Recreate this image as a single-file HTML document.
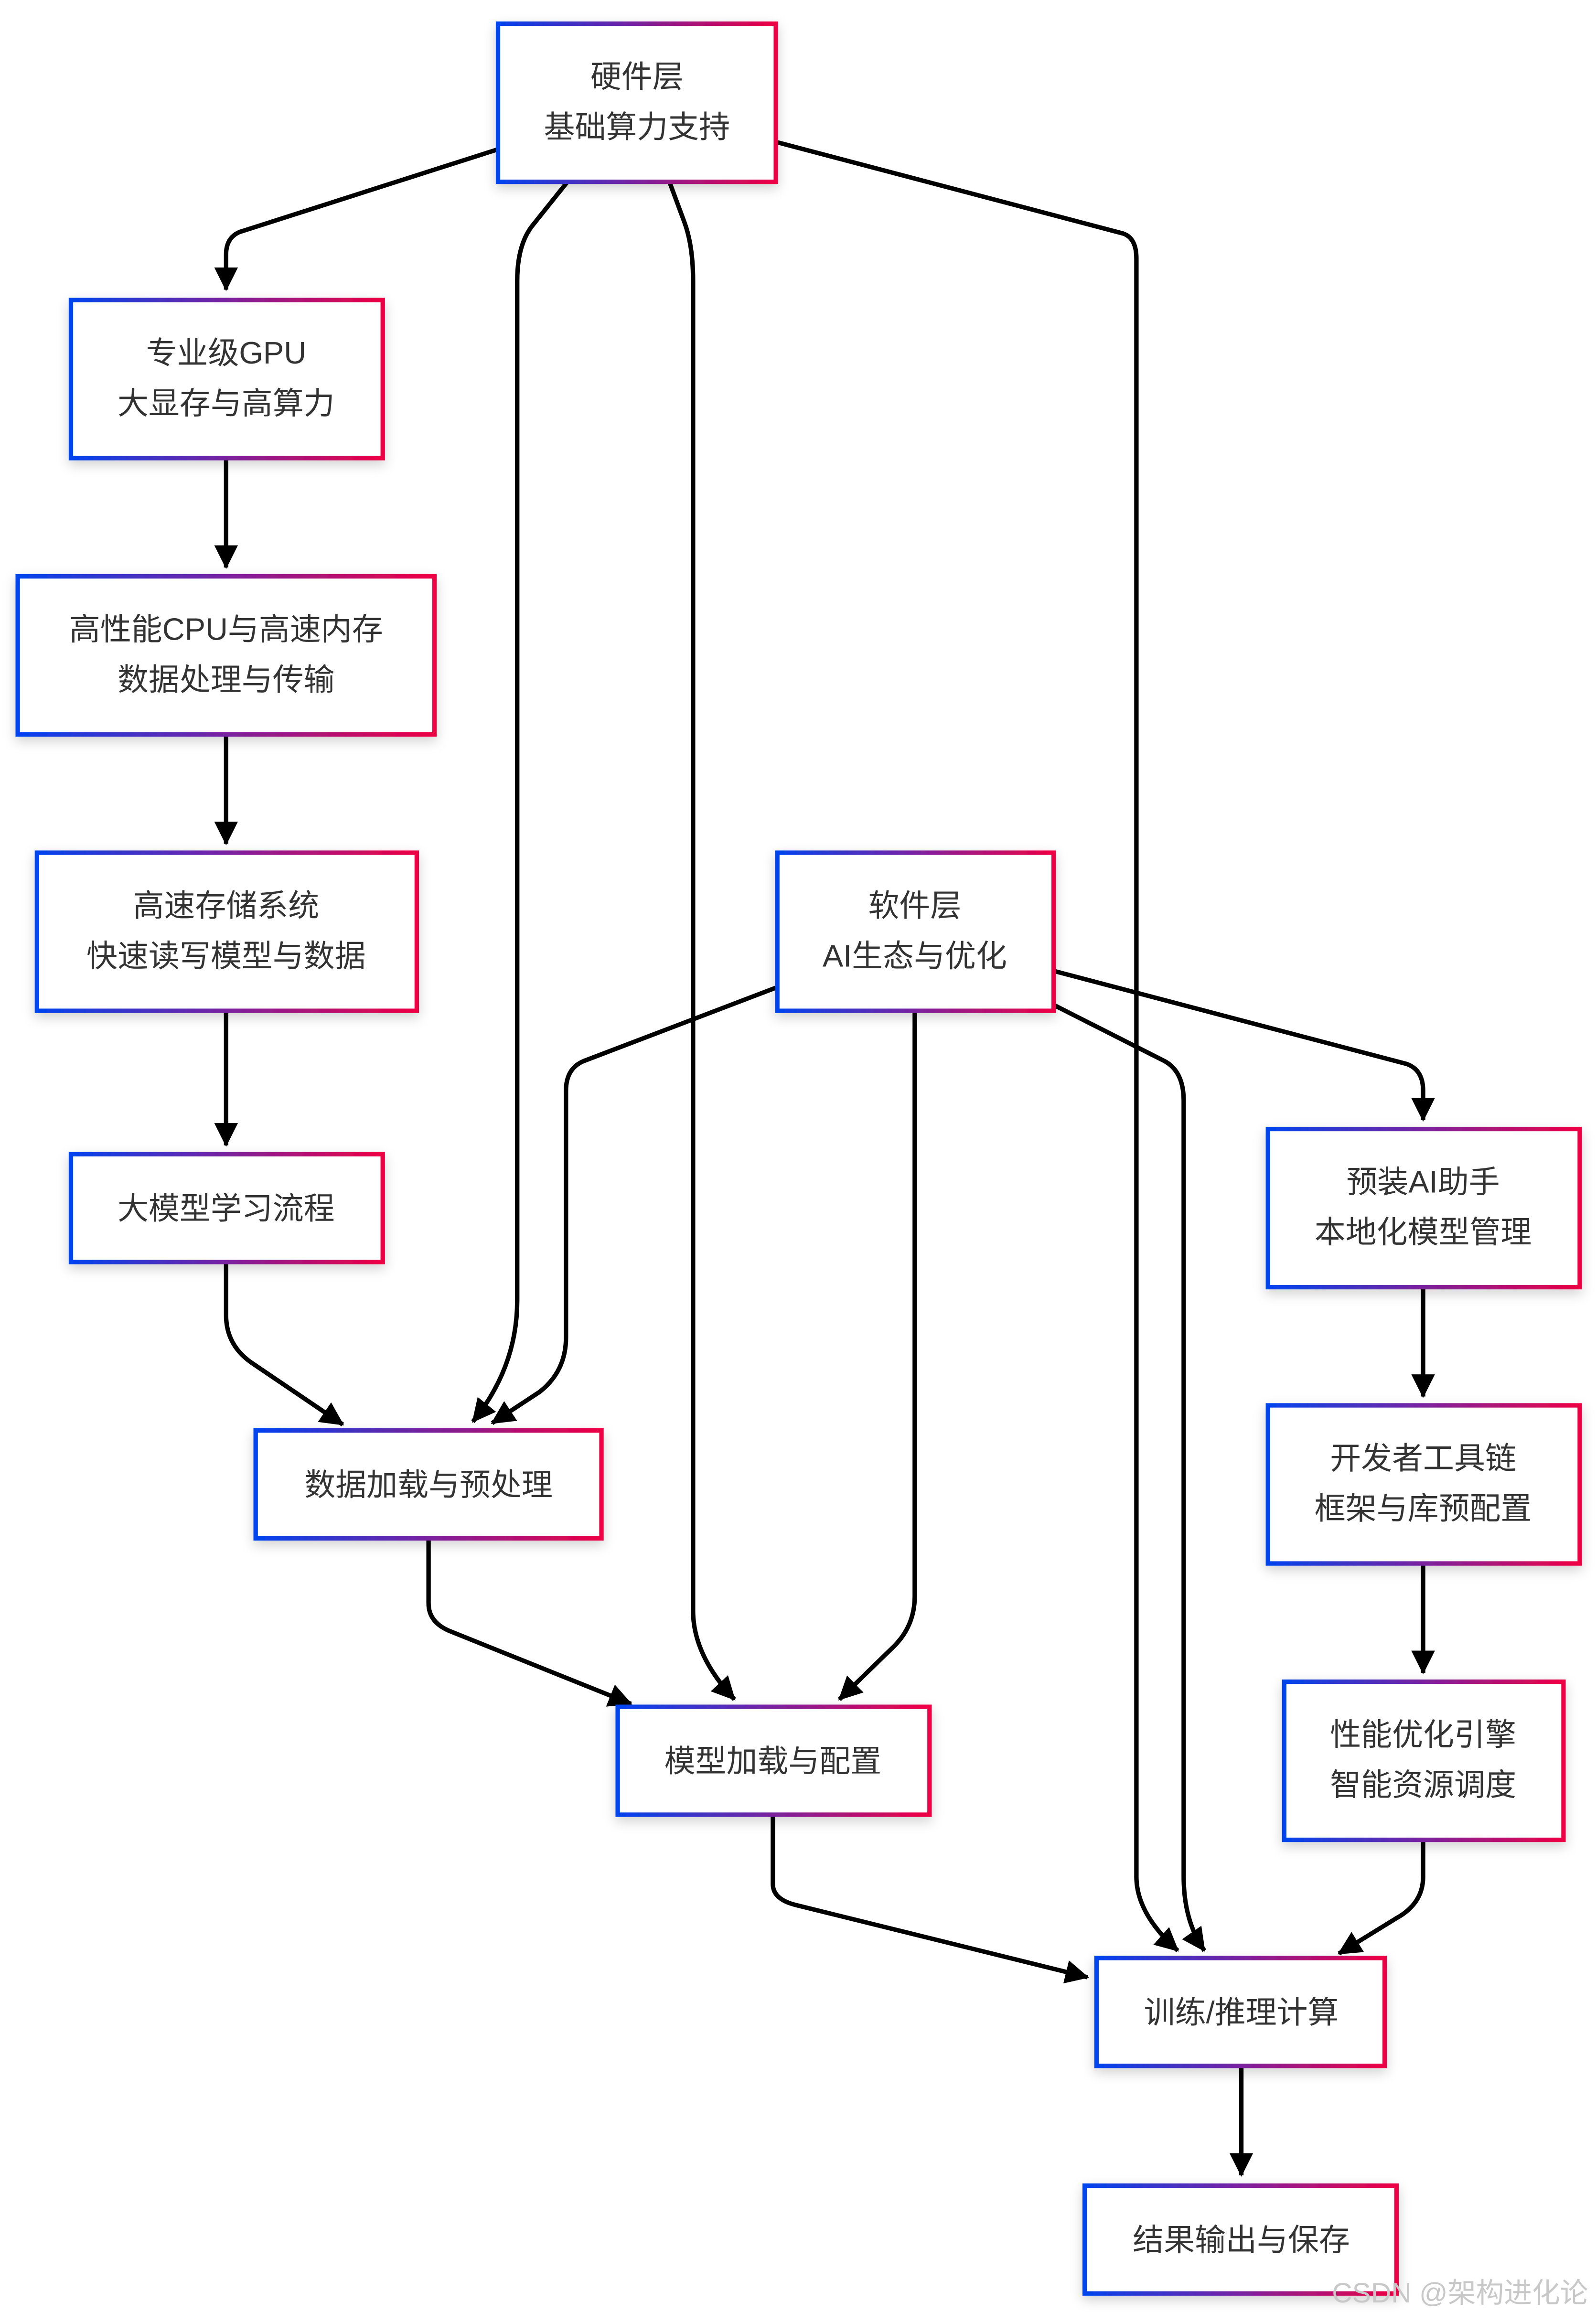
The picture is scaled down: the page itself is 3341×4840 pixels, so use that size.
<!DOCTYPE html>
<html><head><meta charset="utf-8"><style>
html,body{margin:0;padding:0;background:#fff;}
svg{display:block;}
text{font-family:"Liberation Sans","Noto Sans CJK SC",sans-serif;fill:#333;font-size:21px;text-anchor:middle;}
</style></head><body>
<svg width="3341" height="4840" viewBox="0 0 1080 1564.5" xmlns="http://www.w3.org/2000/svg">
<defs>
<linearGradient id="g" x1="0" y1="0" x2="1" y2="0"><stop offset="0" stop-color="#0044ee"/><stop offset="0.5" stop-color="#7a22a0"/><stop offset="1" stop-color="#ee0044"/></linearGradient>
<filter id="sh" x="-20%" y="-20%" width="140%" height="150%"><feDropShadow dx="0" dy="3" stdDeviation="4" flood-color="#000" flood-opacity="0.18"/></filter>
<marker id="a" markerUnits="userSpaceOnUse" markerWidth="16" markerHeight="16" refX="15" refY="8" orient="auto"><path d="M0,0 L16,8 L0,16 z" fill="#000"/></marker>
</defs>
<g fill="none" stroke="#000" stroke-width="3" marker-end="url(#a)">
<path d="M337,101 L162,157 Q153,161 153,172 L153,196"/>
<path d="M384,123 L360,153 Q350,166 350,190 L350,880 Q350,925 320,962"/>
<path d="M453,123 L463,150 Q469,166 469,190 L469,1090 Q469,1120 497,1150"/>
<path d="M525,96 L760,158 Q769,161 769,175 L769,1270 Q769,1295 797,1320"/>
<path d="M153,310 L153,384"/>
<path d="M153,497 L153,571"/>
<path d="M153,684 L153,775"/>
<path d="M153,854 L153,890 Q153,910 170,922 L232,964"/>
<path d="M526,668 L395,718 Q383,723 383,738 L383,905 Q383,928 365,942 L333,963"/>
<path d="M619,684 L619,1080 Q619,1100 605,1114 L568,1150"/>
<path d="M713,657 L952,720 Q963,724 963,738 L963,758"/>
<path d="M713,680 L788,718 Q801,725 801,745 L801,1270 Q801,1300 815,1320"/>
<path d="M963,871 L963,945"/>
<path d="M963,1058 L963,1132"/>
<path d="M963,1245 L963,1270 Q963,1288 945,1298 L906,1322"/>
<path d="M290,1041 L290,1085 Q290,1098 305,1104 L427,1153"/>
<path d="M523,1228 L523,1275 Q523,1285 538,1289 L736,1338"/>
<path d="M840,1398 L840,1472"/>
</g>
<g fill="#fff" stroke="url(#g)" stroke-width="3" filter="url(#sh)">
<rect x="337" y="16" width="188" height="107"/>
<rect x="48" y="203" width="211" height="107"/>
<rect x="12" y="390" width="282" height="107"/>
<rect x="25" y="577" width="257" height="107"/>
<rect x="48" y="781" width="211" height="73"/>
<rect x="526" y="577" width="187" height="107"/>
<rect x="173" y="968" width="234" height="73"/>
<rect x="858" y="764" width="211" height="107"/>
<rect x="858" y="951" width="211" height="107"/>
<rect x="869" y="1138" width="189" height="107"/>
<rect x="418" y="1155" width="211" height="73"/>
<rect x="742" y="1325" width="195" height="73"/>
<rect x="734" y="1479" width="211" height="73"/>
</g>
<text x="431" y="59">硬件层</text><text x="431" y="93">基础算力支持</text>
<text x="153" y="246">专业级GPU</text><text x="153" y="280">大显存与高算力</text>
<text x="153" y="433">高性能CPU与高速内存</text><text x="153" y="467">数据处理与传输</text>
<text x="153" y="620">高速存储系统</text><text x="153" y="654">快速读写模型与数据</text>
<text x="153" y="825">大模型学习流程</text>
<text x="619" y="620">软件层</text><text x="619" y="654">AI生态与优化</text>
<text x="290" y="1012">数据加载与预处理</text>
<text x="963" y="807">预装AI助手</text><text x="963" y="841">本地化模型管理</text>
<text x="963" y="994">开发者工具链</text><text x="963" y="1028">框架与库预配置</text>
<text x="963" y="1181">性能优化引擎</text><text x="963" y="1215">智能资源调度</text>
<text x="523" y="1199">模型加载与配置</text>
<text x="840" y="1369">训练/推理计算</text>
<text x="840" y="1523">结果输出与保存</text>
<text x="988" y="1558" style="font-size:19px;fill:#c8c8c8">CSDN @架构进化论</text>
</svg>
</body></html>
